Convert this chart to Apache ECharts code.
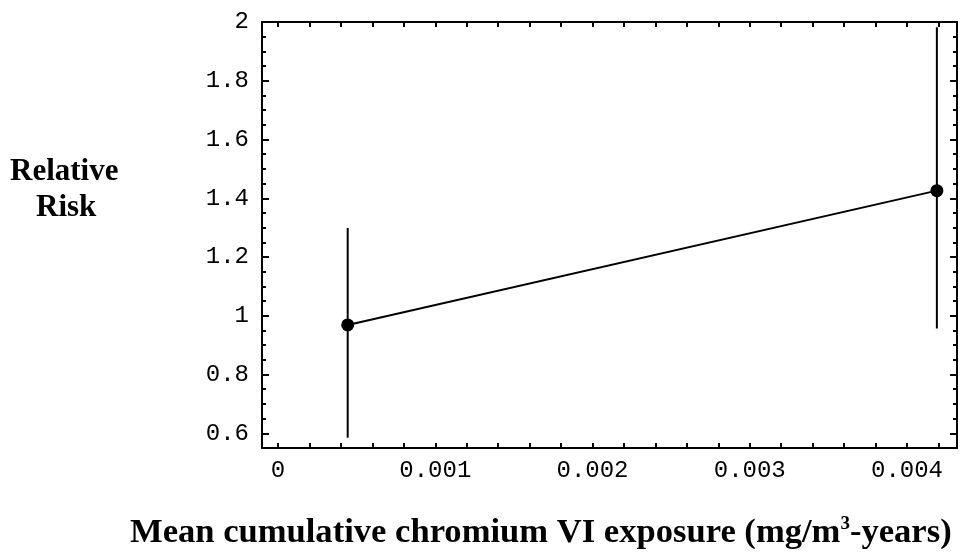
<!DOCTYPE html>
<html>
<head>
<meta charset="utf-8">
<script src="https://cdn.jsdelivr.net/npm/echarts@6/dist/echarts.min.js"></script>
<style>html,body{margin:0;padding:0;background:#fff}#c{width:977px;height:554px}</style>
</head>
<body>
<div id="c"></div>
<script>
// Data
var exposure = [0.000443, 0.00419];
var relRisk = [0.969, 1.426];
var ciLow = [0.585, 0.957];
var ciHigh = [1.299, 1.982];
var xTickLabels = [0, 0.001, 0.002, 0.003, 0.004];
var yTickLabels = [0.6, 0.8, 1, 1.2, 1.4, 1.6, 1.8, 2];
var xMinorTicks = [];
for (var i = 0; i <= 21; i++) xMinorTicks.push(+(i * 0.0002).toFixed(4));
var yMinorTicks = [];
for (var j = 11; j <= 40; j++) yMinorTicks.push(+(j * 0.05).toFixed(2));

var chart = echarts.init(document.getElementById('c'));
var X_MIN = -0.000102, X_MAX = 0.004318, Y_MIN = 0.55, Y_MAX = 2.0;
var monoFont = 'Liberation Mono';

function fmtX(v) { return v === 0 ? '0' : v.toFixed(3); }
function fmtY(v) { return String(+v.toFixed(1)); }

function xAxisDef(pos, labels, ticks, len, showLine) {
  return {
    type: 'value', position: pos, min: X_MIN, max: X_MAX, gridIndex: 0,
    axisLine: { show: showLine, onZero: false, lineStyle: { color: '#000', width: 2 } },
    splitLine: { show: false },
    axisTick: { show: true, inside: true, length: len, customValues: ticks, lineStyle: { color: '#000', width: 2 } },
    axisLabel: { show: labels, customValues: xTickLabels, formatter: fmtX, color: '#000',
      fontFamily: monoFont, fontSize: 24, margin: 11 }
  };
}
function yAxisDef(pos, labels, ticks, len, showLine) {
  return {
    type: 'value', position: pos, min: Y_MIN, max: Y_MAX, gridIndex: 0,
    axisLine: { show: showLine, onZero: false, lineStyle: { color: '#000', width: 2 } },
    splitLine: { show: false },
    axisTick: { show: true, inside: true, length: len, customValues: ticks, lineStyle: { color: '#000', width: 2 } },
    axisLabel: { show: labels, customValues: yTickLabels, formatter: fmtY, color: '#000',
      fontFamily: monoFont, fontSize: 24, margin: 13 }
  };
}

var errData = exposure.map(function (x, k) { return [x, ciLow[k], ciHigh[k]]; });
var lineData = exposure.map(function (x, k) { return [x, relRisk[k]]; });

chart.setOption({
  animation: false,
  backgroundColor: '#fff',
  grid: { left: 262, right: 20, top: 22, bottom: 106 },
  xAxis: [
    xAxisDef('bottom', true, xMinorTicks, 5, true),
    xAxisDef('top', false, xMinorTicks, 5, true)
  ],
  yAxis: [
    yAxisDef('left', true, yTickLabels, 7, true),
    yAxisDef('left', false, yMinorTicks, 4, false),
    yAxisDef('right', false, yTickLabels, 7, true),
    yAxisDef('right', false, yMinorTicks, 4, false)
  ],
  graphic: [
    { type: 'text', left: 10, top: 156, style: { text: 'Relative', font: 'bold 31px "Liberation Serif"', fill: '#000' } },
    { type: 'text', left: 36, top: 192, style: { text: 'Risk', font: 'bold 31px "Liberation Serif"', fill: '#000' } },
    { type: 'text', left: 130, top: 515, style: {
        text: 'Mean cumulative chromium VI exposure (mg/m{sup|3}-years)',
        font: 'bold 34.6px "Liberation Serif"', fill: '#000',
        rich: { sup: { font: 'bold 19px "Liberation Serif"', verticalAlign: 'top', padding: [0, 0, 17, 0] } }
      } }
  ],
  series: [
    {
      type: 'custom', xAxisIndex: 0, yAxisIndex: 0,
      data: errData,
      renderItem: function (params, api) {
        var p1 = api.coord([api.value(0), api.value(1)]);
        var p2 = api.coord([api.value(0), api.value(2)]);
        return { type: 'line', shape: { x1: p1[0], y1: p1[1], x2: p2[0], y2: p2[1] },
          style: { stroke: '#000', lineWidth: 2 } };
      },
      z: 2
    },
    {
      type: 'line', xAxisIndex: 0, yAxisIndex: 0,
      data: lineData,
      symbol: 'circle', symbolSize: 13,
      lineStyle: { color: '#000', width: 2 },
      itemStyle: { color: '#000' },
      z: 3
    }
  ]
});
</script>
</body>
</html>
